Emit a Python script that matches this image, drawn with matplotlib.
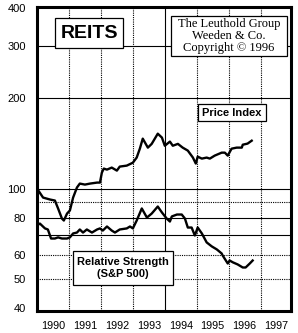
import matplotlib
matplotlib.use("Agg")
import matplotlib.pyplot as plt
from matplotlib.patches import Rectangle

# REITS price index (monthly-ish readings)
price_t = [1990.0, 1990.19, 1990.41, 1990.56, 1990.66, 1990.78, 1990.84, 1990.94,
           1991.03, 1991.13, 1991.25, 1991.34, 1991.5, 1991.66, 1991.88, 1991.97,
           1992.03, 1992.09, 1992.19, 1992.34, 1992.5, 1992.59, 1992.81, 1993.0,
           1993.12, 1993.22, 1993.31, 1993.47, 1993.59, 1993.78, 1993.91, 1994.0,
           1994.16, 1994.25, 1994.41, 1994.56, 1994.72, 1994.88, 1994.97, 1995.03,
           1995.16, 1995.31, 1995.41, 1995.56, 1995.78, 1995.88, 1995.97, 1996.09,
           1996.25, 1996.41, 1996.44, 1996.59, 1996.72]
price_v = [100, 93.3, 91.9, 91.2, 85.8, 79.4, 78.2, 82.5,
           84.5, 93.3, 100.8, 103.9, 103.1, 103.9, 104.7, 104.7,
           113, 116.6, 115.7, 117.5, 114.8, 118.4, 119.3, 122,
           126.9, 136, 146.8, 137, 141, 152.5, 148, 139,
           143.5, 139, 141, 137, 133.9, 126.9, 121.2, 127.8,
           125.9, 126.9, 125.9, 128.8, 131.8, 131.8, 128.8, 135.9,
           137, 137, 140.1, 141.3, 144.5]

# relative strength vs S&P 500
rs_t = [1990.0, 1990.09, 1990.25, 1990.34, 1990.44, 1990.56, 1990.66, 1990.78,
        1990.94, 1991.03, 1991.13, 1991.25, 1991.34, 1991.44, 1991.56, 1991.72,
        1991.88, 1991.97, 1992.06, 1992.19, 1992.34, 1992.44, 1992.59, 1992.81,
        1992.91, 1993.0, 1993.12, 1993.28, 1993.44, 1993.59, 1993.78, 1993.91,
        1994.06, 1994.16, 1994.22, 1994.38, 1994.53, 1994.63, 1994.72, 1994.84,
        1994.94, 1995.03, 1995.16, 1995.31, 1995.47, 1995.63, 1995.78, 1995.81,
        1995.97, 1996.03, 1996.13, 1996.28, 1996.44, 1996.53, 1996.66, 1996.75]
rs_v = [75.3, 76.4, 73.6, 73.0, 68.1, 68.1, 68.7, 68.1,
        68.1, 68.7, 70.8, 71.3, 73.0, 71.3, 73.0, 71.3,
        73.0, 73.6, 72.4, 74.7, 72.4, 71.3, 73.0, 73.6,
        74.7, 73.6, 78.2, 85.8, 80.0, 82.5, 87.1, 83.2,
        79.4, 77.6, 80.7, 81.9, 81.9, 79.4, 74.1, 74.1,
        69.7, 74.1, 70.8, 66.1, 64.1, 62.6, 60.7, 59.8,
        56.2, 57.5, 56.7, 55.8, 54.5, 54.5, 56.2, 57.5]

years = [1990, 1991, 1992, 1993, 1994, 1995, 1996, 1997]
yticks = [40, 50, 60, 80, 100, 200, 300, 400]
solid_h = [70, 80, 100, 200, 300]
dotted_h = [50, 60, 90]

fig = plt.figure(figsize=(2.98, 3.33), dpi=100)
ax = fig.add_axes([37/298, 1-311/333, 254/298, 304/333])
ax.set_yscale("log")
ax.set_ylim(39, 404)
ax.set_xlim(1990, 1997.95)

for v in solid_h:
    ax.axhline(v, color="black", lw=0.8, zorder=1)
for v in dotted_h:
    ax.axhline(v, color="black", lw=0.8, ls=(0, (1, 1)), zorder=1)
for y in years[1:]:
    if y == 1994:
        ax.axvline(y, color="black", lw=0.8, zorder=1)
    else:
        ax.axvline(y, color="black", lw=0.8, ls=(0, (1, 1)), zorder=1)

ax.plot(price_t, price_v, color="black", lw=1.7, zorder=3)
ax.plot(rs_t, rs_v, color="black", lw=1.7, zorder=3)

ax.set_yticks(yticks)
ax.set_yticklabels([str(v) for v in yticks])
ax.yaxis.set_minor_locator(matplotlib.ticker.NullLocator())
ax.set_xticks([y + 0.5 for y in years])
ax.set_xticklabels([str(y) for y in years])
ax.tick_params(axis="x", length=0, labelsize=7.8, pad=7)
ax.tick_params(axis="y", length=0, labelsize=8, pad=8)
for lab in ax.get_xticklabels() + ax.get_yticklabels():
    lab.set_fontfamily("Liberation Sans")
for s in ax.spines.values():
    s.set_linewidth(2.2)

def box(x0, y0, x1, y1):
    # pixel coords (from top-left of figure) -> axes fraction
    fx0 = (x0 - 37) / 254
    fx1 = (x1 - 37) / 254
    fy0 = (311 - y1) / 304
    fy1 = (311 - y0) / 304
    ax.add_patch(Rectangle((fx0, fy0), fx1 - fx0, fy1 - fy0, transform=ax.transAxes,
                           facecolor="white", edgecolor="black", lw=0.9, zorder=4))
    return (fx0 + fx1) / 2, (fy0 + fy1) / 2

cx, cy = box(55, 18, 123, 48)
ax.text(cx, cy, "REITS", transform=ax.transAxes, ha="center", va="center",
        fontsize=14, fontweight="bold", family="Liberation Sans", zorder=5)

cx, cy = box(171, 16, 287, 56)
ax.text(cx, cy, "The Leuthold Group\nWeeden & Co.\nCopyright \u00a9 1996",
        transform=ax.transAxes, ha="center", va="center", fontsize=9,
        family="Liberation Serif", linespacing=0.95, zorder=5)

cx, cy = box(198, 104, 266, 121)
ax.text(cx, cy, "Price Index", transform=ax.transAxes, ha="center", va="center",
        fontsize=8, fontweight="bold", family="Liberation Sans", zorder=5)

cx, cy = box(73, 251, 173, 285)
ax.text(cx, cy, "Relative Strength\n(S&P 500)", transform=ax.transAxes,
        ha="center", va="center", fontsize=8, fontweight="bold",
        family="Liberation Sans", linespacing=1.3, zorder=5)

fig.savefig("out.png", dpi=100)
